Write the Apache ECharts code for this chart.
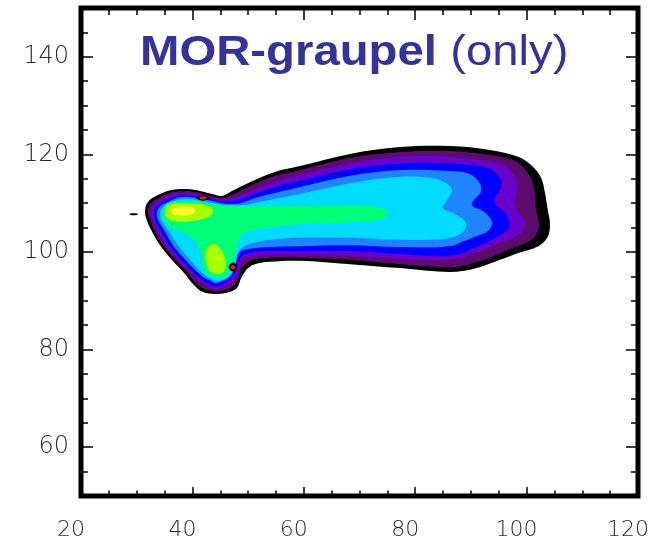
<!DOCTYPE html>
<html>
<head>
<meta charset="utf-8">
<script src="https://cdn.jsdelivr.net/npm/echarts@6/dist/echarts.min.js"></script>
<style>
  html, body { margin: 0; padding: 0; background: #fff; }
  #chart { width: 667px; height: 544px; }
</style>
</head>
<body>
<div id="chart"></div>
<script>
// Axis ticks
const xTickValues = [20, 40, 60, 80, 100, 120];
const yTickValues = [60, 80, 100, 120, 140];

// Filled contour levels, outermost first. Each ring is a closed outline in (x, y) data units.
const ringBlack = [[31.5,108.0],[31.7,109.6],[32.6,110.9],[34.2,111.9],[36.3,112.7],[39.0,112.9],[41.4,112.5],[43.5,111.9],[45.3,111.5],[47.1,112.5],[50.3,114.3],[54.8,116.4],[59.3,117.6],[68.3,120.1],[77.3,121.5],[86.3,121.7],[93.4,120.9],[98.5,119.5],[101.0,117.6],[102.6,115.2],[103.3,112.1],[103.8,108.6],[104.2,105.5],[103.7,102.9],[102.1,101.2],[98.5,99.8],[94.3,98.0],[90.4,96.5],[86.3,95.9],[77.3,96.7],[68.3,97.5],[59.3,98.2],[53.9,98.0],[51.2,97.5],[50.0,96.7],[49.3,95.7],[48.7,94.5],[48.2,93.0],[47.5,92.2],[46.0,91.6],[44.1,91.4],[41.9,91.8],[40.3,93.2],[38.5,95.7],[36.3,98.4],[34.2,101.4],[32.6,104.5],[31.8,106.6]];
const ringBlackDash = [[28.8,107.9],[30.1,107.9],[30.1,107.6],[28.8,107.6]];
const ringDarkPurple = [[32.0,108.0],[32.2,109.4],[33.1,110.5],[34.5,111.5],[36.5,112.3],[39.0,112.5],[41.4,112.1],[43.5,111.5],[45.3,111.1],[47.5,111.9],[50.3,113.5],[54.8,115.6],[59.3,116.8],[68.3,119.3],[77.3,120.5],[86.3,120.7],[93.4,119.9],[97.6,118.9],[99.7,117.0],[101.0,114.6],[101.5,111.7],[101.7,108.6],[102.2,105.7],[101.7,103.5],[100.3,102.1],[97.0,100.6],[93.4,98.8],[89.8,97.5],[86.3,96.9],[77.3,97.5],[68.3,98.4],[59.3,98.8],[53.9,98.8],[50.9,98.4],[49.6,97.5],[48.9,96.5],[48.5,95.3],[48.0,94.1],[47.3,93.0],[45.9,92.2],[44.1,92.0],[42.3,92.4],[40.8,93.4],[38.7,96.3],[36.9,98.4],[34.7,101.4],[33.1,104.5],[32.4,106.6]];
const ringPurple = [[32.6,108.0],[32.7,109.2],[33.6,110.2],[34.9,111.1],[36.7,111.9],[39.0,112.1],[41.4,111.7],[43.5,111.1],[45.3,110.7],[47.8,111.3],[50.7,112.7],[54.8,114.5],[59.3,115.8],[68.3,118.2],[77.3,119.5],[86.3,119.5],[93.4,118.6],[96.1,117.8],[97.9,115.6],[98.5,113.1],[97.9,110.7],[98.3,108.6],[99.7,106.1],[99.2,104.1],[97.6,102.9],[94.3,101.4],[90.7,99.8],[86.3,98.4],[77.3,98.6],[68.3,99.2],[59.3,99.4],[53.9,99.4],[50.5,99.0],[49.3,98.4],[48.5,97.3],[48.4,96.1],[47.8,94.7],[46.9,93.6],[45.7,92.8],[44.1,92.4],[42.6,92.8],[41.4,93.9],[39.2,96.3],[37.4,98.4],[35.3,101.4],[33.6,104.5],[32.9,106.6]];
const ringBlue = [[33.1,108.0],[33.3,109.0],[34.2,110.0],[35.3,110.7],[37.1,111.5],[39.0,111.7],[41.4,111.3],[43.5,110.8],[45.3,110.4],[48.2,110.7],[51.1,111.9],[54.8,113.3],[59.3,114.6],[68.3,117.0],[77.3,118.2],[86.3,118.2],[91.6,117.6],[93.8,116.8],[95.2,115.2],[95.4,113.1],[94.3,111.1],[94.5,109.6],[96.3,107.8],[97.0,105.5],[96.1,104.1],[93.4,102.3],[89.8,100.4],[86.3,99.2],[77.3,99.6],[68.3,100.2],[59.3,100.2],[53.9,100.2],[50.2,99.8],[48.9,99.2],[48.2,98.2],[48.0,96.7],[47.5,95.3],[46.6,94.3],[45.5,93.4],[44.1,93.0],[43.0,93.4],[41.7,94.3],[39.7,96.3],[38.0,98.4],[35.8,101.4],[34.2,104.5],[33.3,106.6]];
const ringAzure = [[33.6,108.0],[33.8,108.8],[34.7,109.8],[35.6,110.2],[37.2,111.1],[39.0,111.3],[41.4,110.9],[43.5,110.5],[45.3,110.0],[48.5,110.0],[51.4,111.1],[54.8,112.1],[59.3,113.3],[68.3,115.6],[77.3,116.8],[86.3,116.6],[89.8,116.0],[91.6,114.1],[91.8,112.3],[90.6,110.7],[90.2,109.6],[92.4,108.2],[93.8,106.1],[93.1,104.3],[91.1,103.3],[88.9,102.3],[86.3,101.2],[77.3,101.0],[68.3,101.4],[59.3,101.2],[53.9,101.0],[50.0,100.6],[48.5,100.0],[48.0,98.8],[47.8,97.3],[47.1,95.7],[46.2,94.7],[45.1,93.9],[44.1,93.6],[43.3,94.1],[42.1,94.7],[40.5,96.3],[38.7,98.4],[36.5,101.4],[34.9,104.5],[33.8,106.6]];
const ringCyan = [[34.2,108.0],[34.4,108.6],[35.1,109.6],[36.0,110.0],[37.4,110.7],[39.0,110.9],[41.4,110.5],[43.5,110.1],[45.3,109.7],[48.9,109.6],[51.8,110.2],[54.8,110.9],[59.3,111.9],[68.3,114.1],[77.3,115.4],[82.7,115.2],[85.3,114.3],[86.6,112.7],[85.5,110.2],[85.0,109.0],[87.1,107.8],[89.1,106.1],[88.6,104.1],[86.3,102.9],[82.7,102.5],[77.3,102.5],[68.3,102.9],[59.3,102.9],[53.9,102.5],[50.7,101.8],[49.1,101.0],[48.2,99.8],[47.8,98.0],[47.6,96.7],[46.9,95.3],[45.7,94.3],[44.1,94.1],[43.3,94.5],[42.4,95.1],[41.2,96.3],[39.6,98.4],[37.4,101.4],[35.6,104.5],[34.4,106.6]];
const ringGreen = [[34.7,108.0],[35.3,109.8],[36.3,110.3],[38.7,110.4],[41.4,110.3],[43.5,109.9],[45.9,109.6],[48.5,109.4],[52.1,109.4],[57.5,109.4],[62.9,109.4],[68.3,109.6],[72.2,109.4],[74.4,108.8],[75.1,107.8],[74.2,106.8],[71.9,106.4],[68.3,106.1],[62.9,105.9],[59.3,105.7],[55.7,105.3],[52.5,104.9],[50.3,104.3],[48.9,103.5],[48.2,102.0],[47.8,100.0],[47.6,98.4],[47.3,96.9],[46.6,95.5],[45.3,94.7],[43.9,94.7],[42.8,95.3],[42.1,96.3],[41.7,98.8],[41.2,100.8],[40.3,102.5],[38.9,103.7],[37.2,104.5],[35.8,105.3],[34.9,106.6]];
const ringYellowGreenHead = [[35.1,108.2],[35.4,109.4],[36.5,109.9],[38.7,110.0],[41.0,109.9],[42.6,109.6],[43.5,109.0],[43.7,108.2],[43.2,107.4],[41.9,106.8],[40.3,106.4],[38.3,106.2],[36.5,106.4],[35.4,107.0]];
const ringYellowGreenLobe = [[42.4,100.4],[43.2,101.4],[44.2,101.6],[45.1,100.6],[45.7,99.2],[46.0,97.5],[45.7,96.1],[44.6,95.5],[43.3,95.9],[42.6,97.3],[42.3,99.0]];
const ringYellowHead = [[36.2,108.4],[36.9,109.1],[38.5,109.3],[39.9,109.1],[40.5,108.5],[39.9,107.8],[38.5,107.5],[36.9,107.6],[36.2,107.9]];
const ringYellowLobe = [[44.2,99.0],[44.7,98.8],[44.6,98.3],[44.1,98.5]];
const ringSpotOuterA = [[40.6,111.1],[41.9,111.6],[43.2,111.1],[41.9,110.5]];
const ringSpotOuterB = [[46.5,96.9],[47.3,97.9],[48.1,96.9],[47.3,96.0]];
const ringRedA = [[41.2,111.1],[41.9,111.4],[42.6,111.1],[41.9,110.8]];
const ringRedB = [[46.8,96.9],[47.3,97.4],[47.7,96.9],[47.3,96.4]];

const contourLevels = [
  [ringBlack, ringBlackDash],
  [ringDarkPurple],
  [ringPurple],
  [ringBlue],
  [ringAzure],
  [ringCyan],
  [ringGreen],
  [ringYellowGreenHead, ringYellowGreenLobe],
  [ringYellowHead, ringYellowLobe],
  [ringSpotOuterA, ringSpotOuterB],
  [ringRedA, ringRedB]
];
const levelColors = ['#000000', '#5c0c6c', '#6a00cc', '#0000ff', '#1e84ff', '#00dcff',
                     '#00ff74', '#a8ff00', '#ffff30', '#000000', '#ff1010'];

// One data item per ring, in drawing order (outer levels first).
const ringItems = [];
contourLevels.forEach((rings, li) => {
  rings.forEach((ring, ri) => ringItems.push([ring[0][0], ring[0][1], li, ri]));
});

const chart = echarts.init(document.getElementById('chart'), null, { renderer: 'canvas' });

const tickStyle = { color: '#000', width: 1.5 };
const labelFont = { fontFamily: 'DejaVu Sans', fontWeight: 200, color: '#2a2a2a' };

chart.setOption({
  animation: false,
  backgroundColor: '#ffffff',
  grid: {
    left: 81, right: 29, top: 8, bottom: 48,
    show: true, borderColor: '#000', borderWidth: 5, backgroundColor: 'transparent'
  },
  xAxis: [
    {
      type: 'value', min: xTickValues[0], max: xTickValues[xTickValues.length - 1], interval: 20,
      position: 'bottom',
      axisLine: { show: false },
      axisTick: { inside: true, length: 9, lineStyle: tickStyle },
      minorTick: { show: true, splitNumber: 4, length: 5.5, lineStyle: tickStyle },
      splitLine: { show: false }, minorSplitLine: { show: false },
      axisLabel: Object.assign({ fontSize: 22, margin: 23, padding: [0, 20, 0, 0] }, labelFont)
    },
    {
      type: 'value', min: xTickValues[0], max: xTickValues[xTickValues.length - 1], interval: 20,
      position: 'top',
      axisLine: { show: false },
      axisTick: { inside: true, length: 12, lineStyle: tickStyle },
      minorTick: { show: true, splitNumber: 4, length: 7, lineStyle: tickStyle },
      splitLine: { show: false }, minorSplitLine: { show: false },
      axisLabel: { show: false }
    }
  ],
  yAxis: [
    {
      type: 'value', min: 50, max: 150, position: 'left',
      axisLine: { show: false },
      axisTick: { inside: true, length: 12, customValues: yTickValues, lineStyle: tickStyle },
      splitLine: { show: false },
      axisLabel: Object.assign({ fontSize: 24, margin: 12, customValues: yTickValues }, labelFont)
    },
    {
      type: 'value', min: 50, max: 150, interval: 5, position: 'left',
      axisLine: { show: false },
      axisTick: { inside: true, length: 7, lineStyle: tickStyle },
      splitLine: { show: false }, axisLabel: { show: false }
    },
    {
      type: 'value', min: 50, max: 150, position: 'right',
      axisLine: { show: false },
      axisTick: { inside: true, length: 12, customValues: yTickValues, lineStyle: tickStyle },
      splitLine: { show: false },
      axisLabel: { show: false }
    },
    {
      type: 'value', min: 50, max: 150, interval: 5, position: 'right',
      axisLine: { show: false },
      axisTick: { inside: true, length: 7, lineStyle: tickStyle },
      splitLine: { show: false }, axisLabel: { show: false }
    }
  ],
  graphic: [
    {
      type: 'text', x: 140, y: 53, scaleX: 1.1, z: 100,
      style: {
        text: '{b|MOR-graupel}{s| }{n|(only)}',
        verticalAlign: 'middle',
        rich: {
          b: { fontSize: 43, fontWeight: 'bold', fontFamily: 'Liberation Sans', fill: '#333399' },
          s: { fontSize: 43, fontFamily: 'Liberation Sans', fill: '#333399', width: 12 },
          n: { fontSize: 43, fontWeight: 'normal', fontFamily: 'Liberation Sans', fill: '#333399' }
        }
      }
    }
  ],
  series: [
    {
      type: 'custom',
      coordinateSystem: 'cartesian2d',
      xAxisIndex: 0, yAxisIndex: 0,
      clip: true,
      encode: { x: 0, y: 1 },
      data: ringItems,
      renderItem: function (params, api) {
        const li = api.value(2);
        const ri = api.value(3);
        const ring = contourLevels[li][ri];
        const points = ring.map(p => api.coord(p));
        return {
          type: 'polygon',
          shape: { points: points, smooth: 0.35 },
          style: { fill: levelColors[li], stroke: null }
        };
      }
    }
  ]
});
</script>
</body>
</html>
